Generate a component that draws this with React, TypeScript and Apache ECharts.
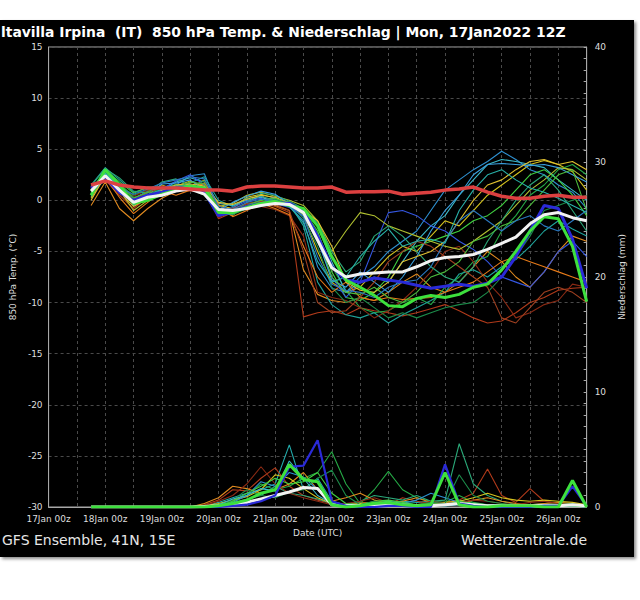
import React, { useEffect, useRef } from "react";
import * as echarts from "echarts";

// forecast hours since 17Jan 00z (6-hourly steps)
const hours = [18, 24, 30, 36, 42, 48, 54, 60, 66, 72, 78, 84, 90, 96, 102, 108, 114, 120, 126, 132, 138, 144, 150, 156, 162, 168, 174, 180, 186, 192, 198, 204, 210, 216, 222, 228];
const dayLabels = ["17Jan 00z", "18Jan 00z", "19Jan 00z", "20Jan 00z", "21Jan 00z", "22Jan 00z", "23Jan 00z", "24Jan 00z", "25Jan 00z", "26Jan 00z"];

// 850 hPa temperature (°C)
const tempClim = [1.5, 1.9, 1.5, 1.3, 1.2, 1.2, 1.2, 1.1, 1.0, 1.0, 0.9, 1.3, 1.4, 1.4, 1.3, 1.2, 1.2, 1.3, 0.8, 0.85, 0.85, 0.9, 0.6, 0.7, 0.8, 1.0, 1.1, 1.3, 0.8, 0.4, 0.2, 0.2, 0.4, 0.5, 0.3, 0.3];
const tempMean = [0.9, 2.4, 1.0, -0.2, 0.3, 0.5, 0.9, 1.1, 0.6, -0.9, -1.0, -0.8, -0.5, -0.3, -0.4, -1.2, -3.9, -6.6, -7.5, -7.2, -7.1, -7.0, -7.0, -6.5, -5.9, -5.6, -5.5, -5.3, -4.8, -4.2, -3.6, -2.3, -1.4, -1.2, -1.7, -2.0];
const tempOper = [0.5, 3.0, 1.5, -0.3, 0.0, 0.6, 1.0, 1.4, 1.2, -1.2, -1.2, -0.7, -0.3, -0.1, -0.5, -0.8, -2.5, -5.5, -7.8, -8.5, -9.3, -10.3, -10.4, -9.6, -9.3, -9.5, -9.2, -8.5, -8.2, -6.8, -5.0, -3.0, -1.6, -1.8, -4.5, -9.9];
const tempCtrl = [1.2, 2.2, 0.8, 0.0, 0.5, 0.8, 1.2, 1.2, 0.8, -1.5, -1.1, -0.6, -0.3, -0.2, -0.3, -1.0, -3.5, -6.5, -7.8, -8.0, -7.6, -7.8, -8.0, -8.3, -8.6, -8.4, -8.2, -8.4, -8.1, -7.5, -5.5, -3.0, -0.5, -0.8, -3.8, -8.6];

const memberColors = ["#b03a1a", "#e08a20", "#d4c21e", "#2e90d0", "#25a845", "#1fa39a", "#3cb8c8", "#8a2a14", "#40d040", "#3456e0", "#b0c030", "#1c8c4a", "#e67a18", "#2aa878", "#3aa0e0", "#e0c030", "#a04020", "#4cbc3c", "#2a78c0", "#28b0a8"];

const m01 = [1.2, 2.0, 0.5, -0.8, 0.3, 0.8, 1.2, 1.5, 1.0, -1.8, -1.2, -0.5, -0.2, -0.6, -1.2, -11.4, -11.0, -10.8, -11.2, -10.5, -10.8, -11.0, -11.3, -11.0, -10.6, -10.2, -10.8, -11.5, -12.0, -11.8, -11.0, -10.0, -9.5, -8.8, -8.6, -8.5];
const m02 = [-0.5, 1.8, -0.8, -2.0, -0.8, 0.2, 0.9, 1.8, 1.5, -1.0, -1.5, -0.2, 0.5, -0.5, -1.0, -6.8, -9.2, -9.8, -10.0, -9.5, -9.8, -9.0, -8.0, -7.2, -8.5, -9.0, -8.0, -6.5, -5.0, -6.0, -7.5, -8.5, -7.0, -5.0, -3.5, -4.0];
const m03 = [0.3, 2.6, 1.2, -0.3, 0.8, 1.5, 1.0, 1.2, 2.0, -0.5, -0.8, 0.3, 0.6, 0.2, -0.2, -1.5, -5.0, -8.0, -9.0, -8.5, -7.0, -5.5, -4.5, -5.0, -3.5, -2.0, -2.5, -1.0, 0.5, 1.5, 2.5, 3.5, 3.9, 3.5, 2.8, 1.0];
const m04 = [1.0, 2.3, 0.9, 0.2, 0.9, 1.3, 1.5, 2.4, 2.6, -0.8, -1.0, -0.4, 0.0, 0.3, -0.6, -2.0, -6.5, -8.6, -9.0, -7.5, -6.5, -5.0, -4.0, -3.0, -1.0, 1.0, 2.0, 3.0, 3.8, 4.8, 4.0, 3.0, 2.5, 1.5, 0.8, -0.8];
const m05 = [0.8, 2.9, 1.5, 0.5, 1.0, 0.9, 1.6, 1.1, 0.5, -1.3, -0.9, -0.4, -0.2, -0.1, -0.4, -1.3, -3.2, -6.5, -8.8, -10.5, -11.0, -10.8, -10.0, -9.5, -10.2, -8.5, -7.5, -6.0, -5.5, -3.0, -1.5, 0.5, 1.5, 3.0, 3.5, 2.5];
const m06 = [1.5, 3.2, 2.0, 0.8, 1.2, 0.6, 1.0, 1.7, 2.3, 0.0, -0.6, 0.2, 0.4, 0.0, -0.3, -2.5, -8.0, -10.2, -11.2, -11.5, -11.0, -12.0, -11.2, -10.5, -9.8, -9.0, -7.2, -6.8, -7.5, -6.5, -5.8, -4.5, -3.0, -2.0, -2.8, -3.5];
const m07 = [1.1, 2.7, 1.4, -0.5, 0.4, 1.0, 1.8, 2.2, 1.8, -0.3, -0.5, 0.0, 0.3, -0.2, -0.5, -1.0, -2.5, -6.0, -9.0, -8.0, -7.5, -8.0, -6.0, -4.0, -2.5, -1.5, 0.5, 2.0, 3.5, 4.0, 3.8, 3.5, 3.2, 2.0, 1.0, 0.0];
const m08 = [0.9, 2.1, 1.3, 0.4, 1.0, 1.4, 1.1, 0.9, 0.8, -1.7, -1.0, -0.4, -0.6, -0.9, -1.5, -3.5, -9.0, -9.5, -9.8, -10.5, -11.5, -10.8, -9.8, -8.5, -7.0, -5.0, -4.5, -6.0, -8.0, -9.5, -11.5, -11.0, -10.2, -9.8, -8.2, -8.5];
const m09 = [0.6, 3.0, 1.8, 0.7, 1.3, 1.2, 1.3, 1.5, 1.2, -0.9, -1.2, -0.6, -0.2, 0.2, -0.2, -1.0, -3.0, -7.0, -9.5, -9.8, -9.0, -7.5, -5.0, -4.5, -4.0, -3.5, -3.0, -2.0, -1.5, -0.5, 1.0, 2.5, 3.0, 2.0, 0.5, -1.5];
const m10 = [1.3, 2.4, 0.7, -0.2, 0.3, 1.1, 1.9, 2.5, 1.5, -1.2, -0.7, -0.1, 0.2, -0.3, -0.7, -1.5, -4.0, -7.5, -9.5, -8.0, -4.5, -1.2, -1.0, -1.5, -2.5, -3.0, -4.0, -4.8, -6.0, -7.5, -8.0, -8.5, -7.0, -5.0, -4.0, -5.5];
const m11 = [0.2, 2.5, 1.0, -1.0, 0.0, 0.7, 1.4, 1.9, 1.3, -0.6, -0.3, 0.5, 0.8, 0.4, 0.0, -0.5, -2.0, -5.0, -3.0, -1.2, -1.5, -2.5, -3.0, -3.5, -4.0, -4.5, -4.8, -4.0, -3.0, -2.0, -0.5, 1.0, 2.0, 3.2, 3.0, 2.0];
const m12 = [1.0, 2.8, 1.7, 0.3, 0.6, 0.4, 0.9, 1.3, 1.9, -0.7, -1.4, -0.8, -0.3, 0.1, -0.3, -1.8, -4.5, -8.5, -10.0, -9.5, -10.5, -11.5, -11.0, -11.5, -11.0, -10.5, -10.2, -10.0, -9.0, -7.5, -5.5, -3.5, -1.0, -0.5, 0.0, 0.5];
const m13 = [0.5, 2.2, 0.3, -1.3, -0.2, 0.9, 0.5, 1.0, 1.7, -0.4, -1.6, -1.0, -0.3, -0.8, -1.4, -4.5, -7.5, -9.0, -8.0, -9.5, -9.8, -9.5, -9.7, -9.6, -9.5, -9.0, -8.5, -8.0, -7.0, -6.0, -5.5, -6.0, -6.5, -7.0, -7.5, -8.0];
const m14 = [1.4, 3.1, 2.2, 0.9, 0.7, 1.8, 2.1, 1.4, 0.6, -1.5, -1.3, -0.2, 0.7, 0.5, -0.1, -0.8, -2.2, -5.0, -7.0, -6.0, -3.5, -2.5, -3.5, -5.0, -6.5, -7.5, -8.0, -6.5, -4.0, -2.0, 0.0, 1.5, 2.5, 1.0, -1.0, -3.0];
const m15 = [0.7, 2.0, 1.1, 0.0, 0.5, 1.6, 1.7, 2.0, 1.0, -1.0, -0.2, 0.4, 0.9, 0.6, -0.4, -1.2, -3.8, -7.8, -8.5, -7.0, -8.0, -9.0, -7.5, -5.5, -3.0, -1.0, 0.5, 2.5, 3.5, 3.6, 3.5, 3.4, 3.5, 3.2, 2.5, 1.8];
const m16 = [0.0, 2.4, 0.8, -0.6, 0.2, 1.0, 1.5, 1.6, 1.4, -0.2, -0.4, 0.1, 0.5, 0.3, -0.3, -1.0, -2.0, -4.5, -8.0, -8.8, -9.0, -8.0, -6.0, -5.5, -5.0, -4.0, -2.0, 0.0, 1.5, 2.0, 3.0, 3.8, 4.0, 3.5, 3.8, 3.0];
const m17 = [1.1, 2.3, 1.0, 0.1, 0.8, 1.2, 1.0, 1.2, 0.9, -1.1, -0.8, -0.3, -0.1, -0.4, -1.0, -5.0, -10.0, -11.0, -10.8, -9.5, -8.0, -6.0, -5.0, -4.0, -4.5, -5.5, -6.5, -7.5, -8.5, -11.5, -12.0, -10.5, -9.0, -8.5, -9.0, -10.0];
const m18 = [0.9, 2.9, 1.6, 0.2, 0.8, 0.8, 1.2, 1.8, 1.6, -0.8, -1.1, -0.5, 0.0, 0.2, -0.3, -1.4, -3.5, -7.5, -9.0, -9.2, -8.5, -9.5, -10.0, -9.0, -7.5, -7.0, -6.0, -4.0, -3.5, -2.5, -2.0, -0.5, 1.0, 2.5, 3.0, -1.0];
const m19 = [1.2, 2.5, 1.2, 0.6, 1.1, 1.7, 2.0, 2.3, 2.1, -0.6, -0.9, -0.2, 0.1, 0.0, -0.5, -1.6, -5.5, -8.2, -8.8, -9.0, -9.5, -8.5, -8.0, -7.8, -6.5, -4.0, -2.0, -1.0, -2.0, -3.0, -2.0, -1.5, -2.5, -3.0, -2.0, -1.0];
const m20 = [0.4, 2.6, 1.3, -0.4, 0.4, 1.1, 1.4, 1.4, 1.1, -1.4, -1.3, -0.7, -0.4, -0.2, -0.6, -2.2, -6.0, -8.0, -7.5, -5.5, -4.0, -2.8, -4.5, -4.0, -3.8, -4.2, -1.0, 1.0, 2.5, 3.0, 2.0, 1.2, 0.8, 0.2, -0.5, -1.2];
const tempMembers = [m01, m02, m03, m04, m05, m06, m07, m08, m09, m10, m11, m12, m13, m14, m15, m16, m17, m18, m19, m20];

// precipitation (mm per 6 h)
const precMean = [0, 0, 0, 0, 0, 0, 0, 0, 0.05, 0.1, 0.2, 0.4, 0.7, 1.0, 1.3, 1.7, 1.6, 0.2, 0.1, 0.1, 0.2, 0.2, 0.15, 0.1, 0.1, 0.2, 0.3, 0.2, 0.1, 0.1, 0.1, 0.1, 0.1, 0.1, 0.2, 0.1];
const precOper = [0, 0, 0, 0, 0, 0, 0, 0, 0, 0.1, 0.3, 0.6, 1.2, 1.5, 3.7, 2.4, 2.2, 0.2, 0, 0.1, 0.3, 0.4, 0.2, 0.1, 0.2, 3.0, 0.2, 0, 0, 0.1, 0.1, 0.1, 0, 0, 2.3, 0];
const precCtrl = [0, 0, 0, 0, 0, 0, 0, 0, 0, 0, 0.1, 0.2, 0.5, 1.0, 3.5, 3.6, 5.8, 0.5, 0.1, 0, 0, 0.1, 0.1, 0, 0, 3.7, 0.3, 0.1, 0, 0, 0, 0, 0.1, 0.1, 1.8, 0.1];
const precColors = ["#22aaaa", "#b03a1a", "#25a845", "#2aa878", "#e08a20", "#d4c21e", "#2e90d0", "#8a2a14", "#40d040", "#1c8c4a", "#3cb8c8"];
const p01 = [0, 0, 0, 0, 0, 0, 0, 0, 0.1, 0.4, 0.8, 1.2, 1.5, 2.0, 5.4, 1.5, 2.5, 0.5, 0.2, 0.3, 0.2, 0.3, 0.5, 0.4, 0.5, 0.3, 0.6, 0.3, 0.2, 0.2, 0.1, 0.1, 0.2, 0.1, 0.1, 0];
const p02 = [0, 0, 0, 0, 0, 0, 0, 0, 0.2, 0.6, 1.5, 1.4, 2.5, 3.4, 1.8, 1.0, 0.6, 0.3, 0.2, 0.4, 0.3, 0.2, 0.8, 0.5, 0.3, 0.4, 0.6, 1.2, 3.3, 1.0, 0.4, 1.6, 0.5, 0.3, 0.2, 0];
const p03 = [0, 0, 0, 0, 0, 0, 0, 0, 0, 0.2, 0.5, 1.0, 2.0, 1.5, 1.8, 2.5, 3.0, 4.8, 2.0, 0.3, 1.5, 3.1, 1.5, 0.8, 0.5, 0.4, 1.0, 0.4, 0.2, 0.1, 0.1, 0.2, 0.2, 0.3, 0.2, 0];
const p04 = [0, 0, 0, 0, 0, 0, 0, 0, 0, 0.1, 0.3, 0.7, 1.0, 1.8, 1.2, 1.0, 0.7, 0.3, 0.2, 0.5, 1.0, 0.8, 0.6, 1.0, 0.5, 0.6, 5.5, 2.0, 1.0, 0.5, 0.2, 0.2, 0.3, 0.2, 0.1, 0];
const p05 = [0, 0, 0, 0, 0, 0, 0, 0, 0.3, 0.8, 1.8, 1.6, 1.2, 1.5, 2.0, 3.0, 1.5, 0.5, 0.8, 1.2, 0.6, 0.3, 0.5, 0.8, 0.4, 0.3, 0.2, 0.6, 0.8, 0.5, 0.3, 0.2, 0.3, 0.4, 0.3, 0.1];
const p06 = [0, 0, 0, 0, 0, 0, 0, 0, 0.1, 0.3, 0.6, 0.9, 1.5, 2.8, 2.5, 1.6, 0.8, 0.3, 0.2, 0.3, 0.4, 0.2, 0.1, 0.2, 0.3, 0.4, 0.5, 0.8, 1.2, 0.8, 0.6, 0.5, 0.6, 0.5, 0.4, 0.2];
const p07 = [0, 0, 0, 0, 0, 0, 0, 0, 0, 0.1, 0.4, 1.0, 2.2, 1.8, 3.0, 2.6, 1.5, 0.4, 0.2, 0.1, 0.2, 0.4, 0.3, 0.6, 1.2, 0.8, 0.4, 0.2, 0.1, 0.1, 0.1, 0.1, 0.2, 0.1, 0.1, 0];
const p08 = [0, 0, 0, 0, 0, 0, 0, 0, 0.1, 0.5, 1.0, 2.0, 3.5, 2.0, 1.2, 0.8, 0.5, 0.2, 0.3, 0.5, 0.8, 0.4, 0.3, 0.2, 0.5, 0.3, 0.4, 0.6, 0.5, 0.3, 0.2, 0.4, 0.5, 0.3, 0.2, 0];
const p09 = [0, 0, 0, 0, 0, 0, 0, 0, 0, 0.2, 0.5, 1.2, 1.8, 2.5, 2.0, 2.2, 3.0, 1.2, 0.3, 0.2, 0.5, 0.6, 0.4, 0.2, 0.3, 0.2, 0.5, 0.3, 0.1, 0.1, 0.1, 0.1, 0.1, 0.1, 0.1, 0];
const p10 = [0, 0, 0, 0, 0, 0, 0, 0, 0, 0.1, 0.6, 1.5, 1.0, 0.8, 1.3, 1.5, 2.5, 3.2, 1.0, 0.2, 0.5, 0.3, 0.2, 0.2, 0.4, 0.3, 2.8, 1.0, 0.5, 0.3, 0.1, 0.1, 0.1, 0.2, 0.3, 0];
const p11 = [0, 0, 0, 0, 0, 0, 0, 0, 0, 0.2, 0.7, 1.0, 1.6, 1.4, 4.0, 2.5, 1.0, 0.3, 0.2, 0.2, 0.3, 0.5, 0.3, 0.2, 0.2, 0.1, 0.2, 0.1, 0.1, 0.1, 0.1, 0.1, 0.1, 0.1, 0.2, 0.1];
const precMembers = [p01, p02, p03, p04, p05, p06, p07, p08, p09, p10, p11];

const FONT = "DejaVu Sans";

function line(name: string, vals: number[], color: string, width: number, axis: number) {
  return {
    type: "line",
    name,
    yAxisIndex: axis,
    data: hours.map((h, i) => [h, vals[i]]),
    showSymbol: false,
    symbol: "none",
    lineStyle: { color, width },
    itemStyle: { color },
    silent: true,
  };
}

export default function App() {
  const ref = useRef<HTMLDivElement>(null);
  useEffect(() => {
    if (!ref.current) return;
    const chart = echarts.init(ref.current, undefined, { renderer: "svg" });
    const series: any[] = [];
    tempMembers.forEach((m, i) => series.push(line("t" + (i + 1), m, memberColors[i], 1.1, 0)));
    series.push(line("tCtrl", tempCtrl, "#2a2ad8", 3, 0));
    series.push(line("tOper", tempOper, "#3de03d", 3, 0));
    series.push(line("tMean", tempMean, "#f2f2f2", 3, 0));
    series.push(line("tClim", tempClim, "#dc4040", 3.5, 0));
    precMembers.forEach((m, i) => series.push(line("p" + (i + 1), m, precColors[i], 1.1, 1)));
    series.push(line("pMean", precMean, "#f2f2f2", 3, 1));
    series.push(line("pCtrl", precCtrl, "#2a2ad8", 2.2, 1));
    series.push(line("pOper", precOper, "#3de03d", 3, 1));

    const axisColor = "#a8a8a8";
    const labelColor = "#dedede";
    chart.setOption({
      animation: false,
      backgroundColor: "#000",
      textStyle: { fontFamily: FONT },
      grid: { left: 39, right: 34, top: 27, bottom: 50, show: true, borderColor: axisColor, borderWidth: 1, backgroundColor: "transparent" },
      xAxis: {
        type: "value",
        min: 0,
        max: 228,
        interval: 12,
        name: "Date (UTC)",
        nameLocation: "middle",
        nameGap: 21,
        nameTextStyle: { color: labelColor, fontSize: 9, fontFamily: FONT },
        axisLine: { show: true, onZero: false, lineStyle: { color: axisColor } },
        axisTick: { show: false },
        axisLabel: {
          color: labelColor,
          fontSize: 9,
          fontFamily: FONT,
          margin: 7,
          formatter: (v: number) => (v % 24 === 0 ? dayLabels[v / 24] || "" : ""),
        },
        splitLine: { show: true, lineStyle: { color: "#4a4a4a", type: [3, 3], width: 1 } },
      },
      yAxis: [
        {
          type: "value",
          min: -30,
          max: 15,
          interval: 5,
          position: "left",
          name: "850 hPa Temp. (°C)",
          nameLocation: "middle",
          nameGap: 24,
          nameTextStyle: { color: labelColor, fontSize: 9, fontFamily: FONT },
          axisLine: { show: true, onZero: false, lineStyle: { color: axisColor } },
          axisTick: { show: false },
          axisLabel: { color: labelColor, fontSize: 9, fontFamily: FONT, margin: 6 },
          splitLine: { show: true, lineStyle: { color: "#4a4a4a", type: [3, 3], width: 1 } },
        },
        {
          type: "value",
          min: 0,
          max: 40,
          interval: 10,
          position: "right",
          name: "Niederschlag (mm)",
          nameLocation: "middle",
          nameGap: 20,
          nameTextStyle: { color: labelColor, fontSize: 9, fontFamily: FONT },
          axisLine: { show: true, onZero: false, lineStyle: { color: axisColor } },
          axisTick: { show: true, inside: true, length: 3, lineStyle: { color: axisColor } },
          minorTick: { show: true, splitNumber: 10, length: 3, lineStyle: { color: axisColor } },
          axisLabel: { color: labelColor, fontSize: 9, fontFamily: FONT, margin: 8 },
          splitLine: { show: false },
        },
      ],
      graphic: [
        {
          type: "text",
          left: 1,
          top: 5,
          style: {
            text: "ltavilla Irpina  (IT)  850 hPa Temp. & Niederschlag | Mon, 17Jan2022 12Z",
            fill: "#ffffff",
            font: `bold 13.9px "${FONT}"`,
          },
        },
        {
          type: "text",
          left: 2,
          top: 513,
          style: { text: "GFS Ensemble, 41N, 15E", fill: "#e6e6e6", font: `14px "${FONT}"` },
        },
        {
          type: "text",
          right: 47,
          top: 513,
          style: { text: "Wetterzentrale.de", fill: "#e6e6e6", font: `14px "${FONT}"` },
        },
      ],
      series,
    });
    return () => chart.dispose();
  }, []);

  return (
    <div style={{ position: "fixed", left: 0, top: 0, width: 640, height: 600, background: "#fff" }}>
      <div
        ref={ref}
        style={{ position: "absolute", left: 0, top: 20, width: 634, height: 537, boxShadow: "2px 2px 3px rgba(0,0,0,0.45)" }}
      />
    </div>
  );
}
